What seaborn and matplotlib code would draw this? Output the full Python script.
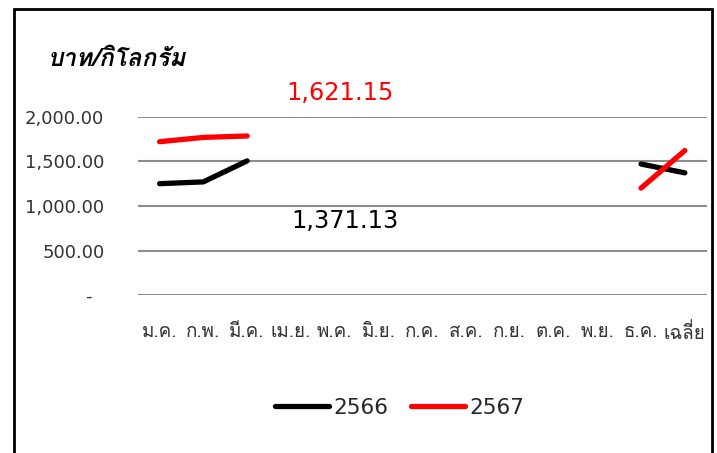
import matplotlib
matplotlib.use("Agg")
import matplotlib.pyplot as plt
import numpy as np
import pandas as pd
import seaborn as sns
from matplotlib.patches import Rectangle

months = ["ม.ค.", "ก.พ.", "มี.ค.", "เม.ย.", "พ.ค.", "มิ.ย.", "ก.ค.",
          "ส.ค.", "ก.ย.", "ต.ค.", "พ.ย.", "ธ.ค.", "เฉลี่ย"]
nan = np.nan
price_2566 = [1250, 1270, 1505, nan, nan, nan, nan, nan, nan, nan, nan, 1470, 1371.13]
price_2567 = [1720, 1768, 1784, nan, nan, nan, nan, nan, nan, nan, nan, 1200, 1621.15]
years = ["2566", "2567"]
colors = ["#000000", "#ff0000"]
yticks = [0, 500, 1000, 1500, 2000]

THAI = ["Loma", "DejaVu Sans"]
NUM = ["DejaVu Sans", "Loma"]

# long table, a new segment starts after every gap
rows = []
for year, vals in zip(years, [price_2566, price_2567]):
    seg = 0
    for i, v in enumerate(vals):
        if np.isnan(v):
            seg += 1
            continue
        rows.append({"x": i, "price": v, "year": year, "seg": f"{year}-{seg}"})
df = pd.DataFrame(rows)

sns.set_theme(style="white")
plt.rcParams["font.family"] = NUM

fig = plt.figure(figsize=(7.17, 4.53), dpi=100)
ax = fig.add_axes([137.7 / 717, 1 - 295.3 / 453, 569 / 717, 178.6 / 453])

sns.lineplot(data=df, x="x", y="price", hue="year", units="seg", estimator=None,
             palette=dict(zip(years, colors)), linewidth=3.8, ax=ax, legend=True,
             solid_capstyle="round", zorder=3)

ax.set_xlim(-0.5, len(months) - 0.5)
ax.set_ylim(0, 2000)
ax.set_xticks(range(len(months)))
ax.set_xticklabels(months, fontsize=13.5, color="#333333", family=THAI)
ax.set_yticks(yticks)
ax.set_yticklabels([f"{v:,.2f}" if v else "-  " for v in yticks],
                   fontsize=13, color="#333333")
ax.tick_params(axis="y", length=0, pad=24)
ax.tick_params(axis="x", length=0, pad=20)
ax.grid(axis="y", color="#8c8c8c", linewidth=1.5)
ax.set_axisbelow(True)
for s in ax.spines.values():
    s.set_visible(False)
ax.set_xlabel("")
ax.set_ylabel("")

# average labels, moved away from the points as in the original
ax.text(0.355, 1.093, f"{price_2567[-1]:,.2f}", transform=ax.transAxes, ha="center",
        va="baseline", fontsize=17.3, color="#ff0000")
ax.text(0.364, 0.377, f"{price_2566[-1]:,.2f}", transform=ax.transAxes, ha="center",
        va="baseline", fontsize=17.3, color="#000000")

fig.text(48 / 717, 1 - 59 / 453, "บาท/กิโลกรัม", fontsize=17.5, style="italic",
         weight="bold", color="black", va="center", ha="left", family=THAI)

handles, labels = ax.get_legend_handles_labels()
ax.get_legend().remove()
fig.legend(handles, labels, loc="center", bbox_to_anchor=(400 / 717, 1 - 408 / 453),
           ncol=2, frameon=False, fontsize=15.6, handlelength=2.45, handletextpad=0.23,
           columnspacing=1.06)

fig.patches.append(Rectangle((14 / 717, -0.2), (712 - 14) / 717, 1.2 - 8.5 / 453,
                             transform=fig.transFigure, fill=False, edgecolor="black",
                             linewidth=2, clip_on=False))

fig.savefig("out.png", dpi=100)
